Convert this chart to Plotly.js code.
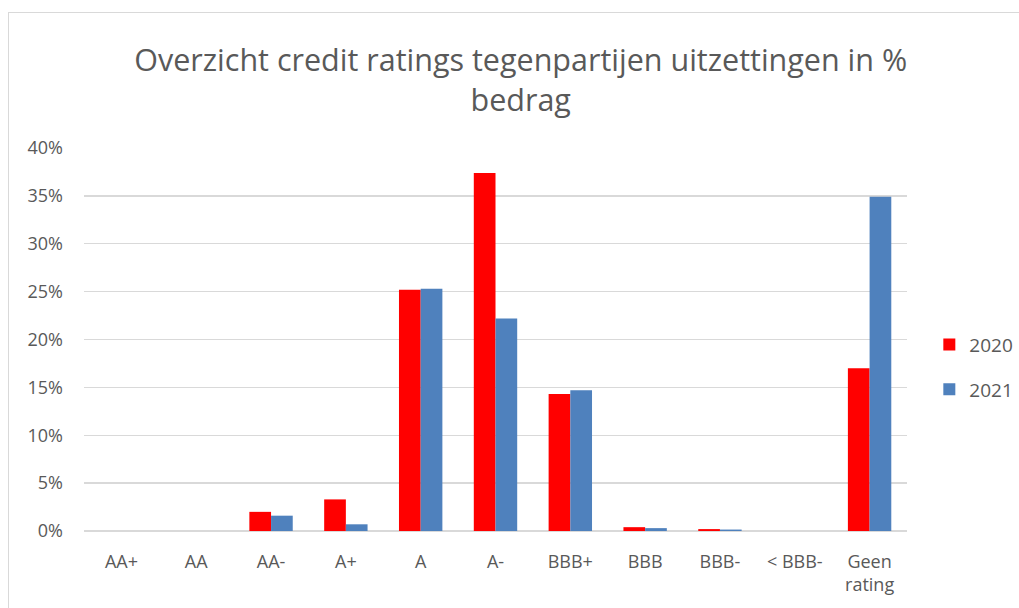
<!DOCTYPE html>
<html>
<head>
<meta charset="utf-8">
<script src="https://cdn.plot.ly/plotly-3.0.1.min.js"></script>
<style>
  html, body { margin: 0; padding: 0; background: #fff; }
  #chart { width: 1019px; height: 608px; }
  #frame { position: absolute; left: 8px; top: 12px; width: 1020px; height: 610px; border: 1px solid #d9d9d9; pointer-events: none; }
</style>
</head>
<body>
<div id="chart"></div>
<div id="frame"></div>
<script>
const categories = ["AA+", "AA", "AA-", "A+", "A", "A-", "BBB+", "BBB", "BBB-", "< BBB-", "Geen<br>rating"];
const values2020 = [0, 0, 0.020, 0.033, 0.252, 0.374, 0.143, 0.004, 0.002, 0, 0.170];
const values2021 = [0, 0, 0.016, 0.007, 0.253, 0.222, 0.147, 0.003, 0.0015, 0, 0.349];
const tickValues = [0, 0.05, 0.10, 0.15, 0.20, 0.25, 0.30, 0.35, 0.40];
const tickLabels = ["0%", "5%", "10%", "15%", "20%", "25%", "30%", "35%", "40%"];

const font = "Open Sans, sans-serif";
const traces = [
  { type: "bar", name: "2020", x: categories, y: values2020, legendgroup: "a",
    marker: { color: "#FF0000" }, hoverinfo: "x+y" },
  { type: "bar", name: "2021", x: categories, y: values2021, legendgroup: "b",
    marker: { color: "#4F81BD" }, hoverinfo: "x+y" }
];
const layout = {
  width: 1019, height: 608,
  margin: { l: 84, r: 112, t: 148, b: 77, autoexpand: false },
  paper_bgcolor: "#fff", plot_bgcolor: "#fff",
  barmode: "group", bargap: 0.42, bargroupgap: 0,
  title: { text: "Overzicht credit ratings tegenpartijen uitzettingen in %<br>bedrag",
    x: 0.511, xanchor: "center", xref: "container", yref: "container", y: 0.883, yanchor: "middle",
    font: { family: font, size: 30.5, color: "#595959" } },
  xaxis: { type: "category", showgrid: false, zeroline: false, showline: false,
    ticks: "", ticklabelstandoff: 18, tickfont: { family: font, size: 18, color: "#595959" }, automargin: false },
  yaxis: { range: [0, 0.4], tickvals: tickValues, ticktext: tickLabels,
    showgrid: true, gridcolor: "#d9d9d9", gridwidth: 1.3, zeroline: true, zerolinecolor: "#d9d9d9", zerolinewidth: 1.3,
    showline: false, ticks: "", ticklabelstandoff: 20,
    tickfont: { family: font, size: 18, color: "#595959" }, automargin: false },
  showlegend: true,
  legend: { xref: "container", yref: "container", x: 0.912, xanchor: "left", y: 0.396, yanchor: "middle",
    traceorder: "grouped", tracegroupgap: 17, borderwidth: 0,
    font: { family: font, size: 19, color: "#595959" }, itemwidth: 30 },
  font: { family: font }
};
Plotly.newPlot("chart", traces, layout, { displayModeBar: false, staticPlot: true });
</script>
</body>
</html>
